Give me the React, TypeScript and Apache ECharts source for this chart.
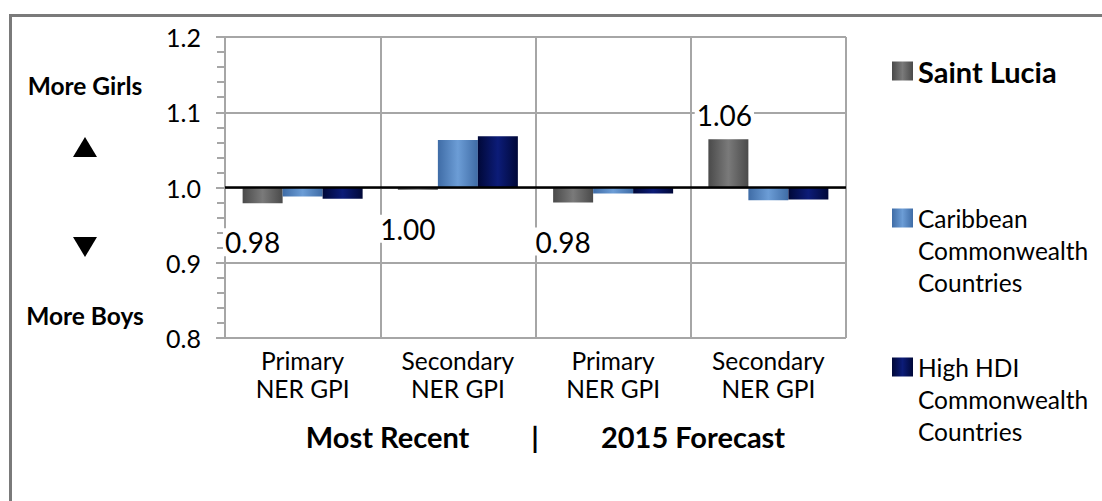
import React, { useEffect, useRef } from "react";
import * as echarts from "echarts";

const categories = ["Primary\nNER GPI", "Secondary\nNER GPI", "Primary\nNER GPI", "Secondary\nNER GPI"];
const seriesNames = ["Saint Lucia", "Caribbean\nCommonwealth\nCountries", "High HDI\nCommonwealth\nCountries"];
const saintLucia = [0.979, 0.997, 0.98, 1.064];
const caribbean = [0.988, 1.063, 0.992, 0.983];
const highHdi = [0.985, 1.068, 0.992, 0.984];
const BASELINE = 1.0;
const yMin = 0.8;
const yMax = 1.2;
const yStep = 0.1;
const leftNotes = ["More Girls", "More Boys"];
const axisTitleLeft = "Most Recent";
const axisTitleRight = "2015 Forecast";

const FONT = "Lato, 'Open Sans', sans-serif";

const grad = (edge: string, mid: string) =>
  new echarts.graphic.LinearGradient(0, 0, 1, 0, [
    { offset: 0, color: edge },
    { offset: 0.5, color: mid },
    { offset: 1, color: edge },
  ]);

export default function App() {
  const ref = useRef<HTMLDivElement>(null);
  useEffect(() => {
    if (!ref.current) return;
    const chart = echarts.init(ref.current, null, { renderer: "svg" });
    const rel = (arr: number[]) => arr.map((v) => +(v - BASELINE).toFixed(4));
    const colors = [grad("#4a4a4a", "#7a7a7a"), grad("#3f6ca6", "#6c9dd6"), grad("#000838", "#0c1c78")];
    const allData = [saintLucia, caribbean, highHdi];

    const series: any[] = allData.map((arr, si) => ({
      name: seriesNames[si],
      type: "bar",
      barWidth: 40,
      barGap: "0%",
      itemStyle: { color: colors[si] },
      data:
        si === 0
          ? arr.map((v) => ({
              value: +(v - BASELINE).toFixed(4),
              label: {
                show: true,
                position: v >= BASELINE ? "top" : "bottom",
                distance: v >= BASELINE ? 10 : 25,
                offset: [v >= BASELINE ? -4 : -10, 0],
              },
            }))
          : rel(arr),
      label: {
        show: false,
        formatter: (p: any) => allData[si][p.dataIndex].toFixed(2),
        fontFamily: FONT,
        fontSize: 28,
        color: "#000",
        backgroundColor: "#fff",
        padding: [0, 2],
      },
      markLine:
        si === 0
          ? {
              silent: true,
              symbol: "none",
              label: { show: false },
              lineStyle: { color: "#000", width: 2.5, type: "solid" },
              data: [{ yAxis: 0 }],
            }
          : undefined,
    }));

    const legendTops = [54, 138, 287];
    const legends = seriesNames.map((n, i) => ({
      data: [n],
      orient: "vertical",
      left: 892,
      top: legendTops[i],
      padding: 0,
      itemWidth: 21,
      itemHeight: 19,
      icon: "rect",
      selectedMode: false,
      formatter: i === 0 ? "{name}" : (name: string) => "\n\n" + name,
      textStyle:
        i === 0
          ? { fontFamily: FONT, fontSize: 29, fontWeight: "bold", color: "#000", lineHeight: 34 }
          : { fontFamily: FONT, fontSize: 24.5, color: "#000", lineHeight: 32 },
    }));

    chart.setOption({
      animation: false,
      backgroundColor: "#fff",
      grid: { left: 225, right: 256, top: 37, bottom: 163, containLabel: false },
      legend: legends,
      xAxis: {
        type: "category",
        data: categories,
        axisLine: { show: false, onZero: false },
        axisTick: { show: false },
        splitLine: { show: true, lineStyle: { color: "#a6a6a6", width: 2 } },
        axisLabel: { fontFamily: FONT, fontSize: 24.5, color: "#000", lineHeight: 28, margin: 8 },
        name: `{t|${axisTitleLeft}}{s|}{t||}{s|}{t|${axisTitleRight}}`,
        nameLocation: "middle",
        nameGap: 84,
        nameTextStyle: {
          padding: [0, 0, 0, 20],
          rich: {
            t: { fontFamily: FONT, fontSize: 29, fontWeight: "bold", color: "#000" },
            s: { width: 62 },
          },
        },
      },
      yAxis: {
        type: "value",
        min: yMin - BASELINE,
        max: yMax - BASELINE,
        interval: yStep,
        axisLine: { show: true, lineStyle: { color: "#a6a6a6", width: 2 } },
        axisTick: { show: true, length: 9, lineStyle: { color: "#a6a6a6", width: 2 } },
        minorTick: { show: true, splitNumber: 5, length: 8, lineStyle: { color: "#a6a6a6", width: 2 } },
        splitLine: { show: true, lineStyle: { color: "#a6a6a6", width: 2 } },
        axisLabel: {
          fontFamily: FONT,
          fontSize: 25,
          color: "#000",
          margin: 24,
          formatter: (v: number) => (v + BASELINE).toFixed(1),
        },
      },
      series,
      graphic: [
        {
          type: "rect",
          z: -10,
          shape: { x: 10.5, y: 15.5, width: 1200, height: 600 },
          style: { fill: "none", stroke: "#7a7a7a", lineWidth: 3 },
        },
        {
          type: "text",
          x: 85,
          y: 85,
          style: { text: leftNotes[0], fontFamily: FONT, fontSize: 24.5, fontWeight: "bold", fill: "#000", align: "center", verticalAlign: "middle" },
        },
        {
          type: "polygon",
          shape: { points: [[85, 137], [97, 157], [73, 157]] },
          style: { fill: "#000" },
        },
        {
          type: "polygon",
          shape: { points: [[73, 237], [97, 237], [85, 257]] },
          style: { fill: "#000" },
        },
        {
          type: "text",
          x: 85,
          y: 315,
          style: { text: leftNotes[1], fontFamily: FONT, fontSize: 24.5, fontWeight: "bold", fill: "#000", align: "center", verticalAlign: "middle" },
        },
      ],
    });
    return () => chart.dispose();
  }, []);
  return <div ref={ref} style={{ position: "fixed", left: 0, top: 0, width: 1102, height: 501 }} />;
}
